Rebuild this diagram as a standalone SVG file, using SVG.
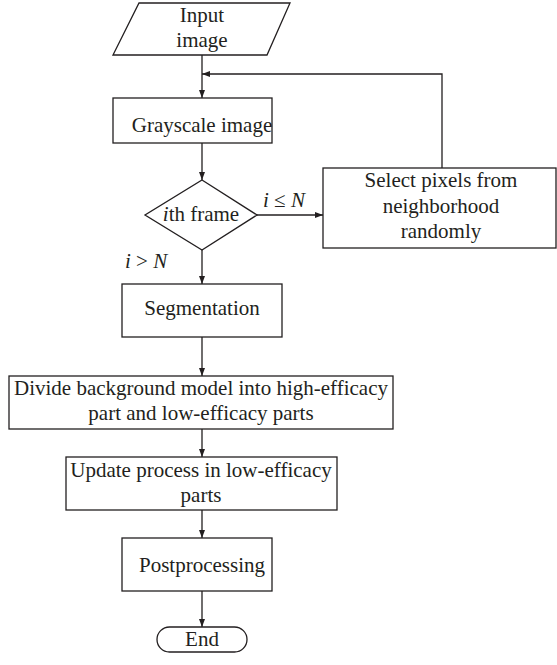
<svg xmlns="http://www.w3.org/2000/svg" width="557" height="665" viewBox="0 0 557 665">
<defs>
<marker id="ah" markerWidth="8" markerHeight="6" refX="8" refY="3" orient="auto" markerUnits="userSpaceOnUse">
<path d="M0,0 L8,3 L0,6 Z" fill="#231f20"/>
</marker>
<style>
.s{fill:#fff;stroke:#231f20;stroke-width:1.3}
.t{font-family:"Liberation Serif","Times New Roman",serif;font-size:21px;fill:#231f20;text-anchor:middle}
.l{font-family:"Liberation Serif","Times New Roman",serif;font-size:21px;fill:#231f20}
.c{fill:none;stroke:#231f20;stroke-width:1.3;marker-end:url(#ah)}
</style>
</defs>
<rect width="557" height="665" fill="#fff"/>
<g id="connectors">
<path class="c" d="M202,55 V98"/>
<path class="c" d="M442,168 V74 H202"/>
<path class="c" d="M202,143 V180"/>
<path class="c" d="M257,215 H323"/>
<path class="c" d="M202,250 V284"/>
<path class="c" d="M202,337 V376"/>
<path class="c" d="M202,429 V457"/>
<path class="c" d="M202,510 V538"/>
<path class="c" d="M202,591 V627"/>
<text class="l" x="263" y="207"><tspan font-style="italic">i</tspan> ≤ <tspan font-style="italic">N</tspan></text>
<text class="l" x="125" y="268"><tspan font-style="italic">i</tspan> &gt; <tspan font-style="italic">N</tspan></text>
</g>
<g id="input">
<polygon class="s" points="139,3 290,3 267,55 113,55"/>
<text class="t" x="202" y="22">Input</text>
<text class="t" x="202" y="47">image</text>
</g>
<g id="grayscale">
<rect class="s" x="113" y="98" width="159" height="45"/>
<text class="t" x="202" y="132">Grayscale image</text>
</g>
<g id="frame">
<polygon class="s" points="202,180 257,215 202,250 145,215"/>
<text class="t" x="201" y="221"><tspan font-style="italic">i</tspan>th frame</text>
</g>
<g id="select">
<rect class="s" x="323" y="168" width="233" height="80"/>
<text class="t" x="441" y="187">Select pixels from</text>
<text class="t" x="441" y="213">neighborhood</text>
<text class="t" x="441" y="238">randomly</text>
</g>
<g id="segmentation">
<rect class="s" x="122" y="284" width="160" height="53"/>
<text class="t" x="202" y="315">Segmentation</text>
</g>
<g id="divide">
<rect class="s" x="9" y="376" width="384" height="53"/>
<text class="t" x="201" y="395">Divide background model into high-efficacy</text>
<text class="t" x="201" y="420">part and low-efficacy parts</text>
</g>
<g id="update">
<rect class="s" x="66" y="457" width="271" height="53"/>
<text class="t" x="201" y="477">Update process in low-efficacy</text>
<text class="t" x="201" y="502">parts</text>
</g>
<g id="postprocessing">
<rect class="s" x="122" y="538" width="150" height="53"/>
<text class="t" x="202" y="572">Postprocessing</text>
</g>
<g id="end">
<rect class="s" x="157" y="627" width="90" height="25" rx="12.5" ry="12.5"/>
<text class="t" x="202" y="646">End</text>
</g>
</svg>
